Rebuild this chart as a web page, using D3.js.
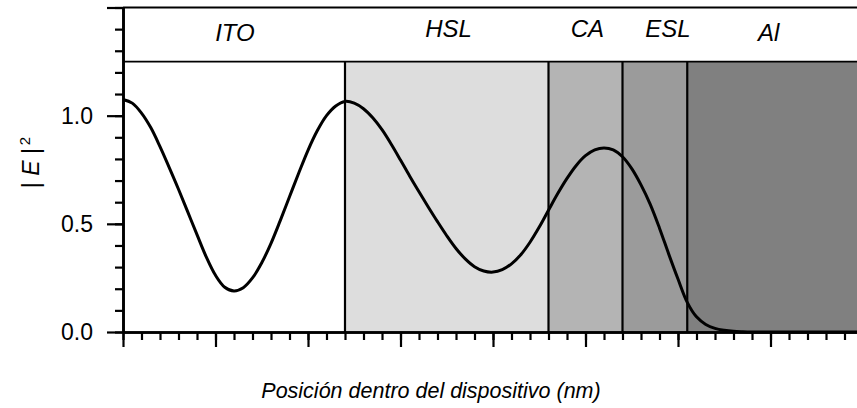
<!DOCTYPE html>
<html>
<head>
<meta charset="utf-8">
<script src="https://cdn.jsdelivr.net/npm/d3@7"></script>
<style>
  body { margin: 0; background: #fff; }
  text { font-family: "Liberation Sans", Arial, sans-serif; fill: #000; }
</style>
</head>
<body>
<div id="chart"></div>
<script>
// layers of the device (nm)
var layerNames = ["ITO", "HSL", "CA", "ESL", "Al"];
var layerStart = [0, 120, 230, 270, 305];
var layerEnd = [120, 230, 270, 305, 400];
var layerFill = ["#ffffff", "#dddddd", "#b4b4b4", "#9b9b9b", "#808080"];
var labelAt = [60.5, 176, 251, 294.5, 349];

// |E|^2, every 5 nm
var posNm = [0, 5, 10, 15, 20, 25, 30, 35, 40, 45, 50, 55, 60, 65, 70, 75, 80, 85, 90, 95,
  100, 105, 110, 115, 120, 125, 130, 135, 140, 145, 150, 155, 160, 165, 170, 175, 180, 185, 190, 195,
  200, 205, 210, 215, 220, 225, 230, 235, 240, 245, 250, 255, 260, 265, 270, 275, 280, 285, 290, 295,
  300, 305, 310, 315, 320, 325, 330, 335, 340, 350, 360, 370, 380, 390, 400];
var field = [1.075, 1.058, 1.012, 0.945, 0.857, 0.76, 0.66, 0.555, 0.45, 0.347, 0.262, 0.207, 0.19, 0.205, 0.25, 0.32, 0.41, 0.515, 0.625, 0.735,
  0.84, 0.93, 1.0, 1.045, 1.066, 1.058, 1.032, 0.99, 0.935, 0.868, 0.795, 0.72, 0.648, 0.578, 0.51, 0.445, 0.386, 0.338, 0.302, 0.282,
  0.277, 0.288, 0.315, 0.357, 0.415, 0.485, 0.563, 0.64, 0.71, 0.77, 0.815, 0.842, 0.851, 0.842, 0.81, 0.755, 0.68, 0.59, 0.48, 0.36,
  0.245, 0.137, 0.07, 0.035, 0.017, 0.008, 0.003, 0.001, 0, 0, 0, 0, 0, 0, 0];

var yLabels = [0, 0.5, 1.0];

var margin = {top: 7.5, left: 123},
    width = 740,
    height = 324.5;

var svg = d3.select("#chart")
    .append("svg")
    .attr("width", 857)
    .attr("height", 408)
    .append("g")
    .attr("transform", "translate(" + margin.left + "," + margin.top + ")");

var x = d3.scaleLinear().domain([0, 400]).range([0, width]);
var y = d3.scaleLinear().domain([0, 1.5]).range([height, 0]);

var data = posNm.map(function (d, i) { return {x: d, v: field[i]}; });

// layer fills (up to the header line)
svg.selectAll("rect.layer")
    .data(layerNames)
    .enter().append("rect")
    .attr("class", "layer")
    .attr("x", function (d, i) { return x(layerStart[i]); })
    .attr("width", function (d, i) { return x(layerEnd[i]) - x(layerStart[i]); })
    .attr("y", y(1.25))
    .attr("height", y(0) - y(1.25))
    .attr("fill", function (d, i) { return layerFill[i]; });

// boundaries between layers
svg.selectAll("line.bound")
    .data(layerStart.slice(1))
    .enter().append("line")
    .attr("x1", function (d) { return x(d); })
    .attr("x2", function (d) { return x(d); })
    .attr("y1", y(1.25))
    .attr("y2", y(0))
    .attr("stroke", "#000")
    .attr("stroke-width", 2.2);

// header separator and top border
svg.append("line")
    .attr("x1", 0).attr("x2", width)
    .attr("y1", y(1.25)).attr("y2", y(1.25))
    .attr("stroke", "#000").attr("stroke-width", 1.6);
svg.append("line")
    .attr("x1", 0).attr("x2", width)
    .attr("y1", y(1.5)).attr("y2", y(1.5))
    .attr("stroke", "#000").attr("stroke-width", 2.2);

// the curve
svg.append("path")
    .datum(data)
    .attr("fill", "none")
    .attr("stroke", "#000")
    .attr("stroke-width", 3)
    .attr("d", d3.line()
        .curve(d3.curveCatmullRom)
        .x(function (d) { return x(d.x); })
        .y(function (d) { return y(d.v); }));

// y axis: minor + major ticks
var yMinor = svg.append("g")
    .call(d3.axisLeft(y).tickValues(d3.range(0, 1.51, 0.1)).tickSize(8).tickSizeOuter(0).tickFormat(""));
var yMajor = svg.append("g")
    .call(d3.axisLeft(y).tickValues([0, 0.5, 1.0, 1.5]).tickSize(16).tickSizeOuter(0).tickPadding(14)
        .tickFormat(function (d) { return yLabels.indexOf(d) >= 0 ? d3.format(".1f")(d) : ""; }));

// x axis: minor + major ticks, no labels
var xMinor = svg.append("g")
    .attr("transform", "translate(0," + height + ")")
    .call(d3.axisBottom(x).tickValues(d3.range(0, 401, 10)).tickSize(8).tickSizeOuter(0).tickFormat(""));
var xMajor = svg.append("g")
    .attr("transform", "translate(0," + height + ")")
    .call(d3.axisBottom(x).tickValues(d3.range(0, 401, 50)).tickSize(15).tickSizeOuter(0).tickFormat(""));

[yMinor, yMajor, xMinor, xMajor].forEach(function (g) {
    g.selectAll("path.domain").attr("stroke-width", 2.6);
    g.selectAll(".tick line").attr("stroke-width", 2.2);
    g.selectAll("text").attr("font-size", 23).attr("font-family", "Liberation Sans, Arial, sans-serif");
});

// layer names in the header
svg.selectAll("text.layer")
    .data(layerNames)
    .enter().append("text")
    .attr("x", function (d, i) { return x(labelAt[i]); })
    .attr("y", function (d, i) { return (d === "ITO" || d === "Al") ? y(1.5) + 33.5 : y(1.5) + 29.5; })
    .attr("text-anchor", "middle")
    .attr("font-size", 24)
    .attr("font-style", "italic")
    .text(function (d) { return d; });

// axis titles
svg.append("text")
    .attr("x", 308)
    .attr("y", 390.5)
    .attr("text-anchor", "middle")
    .attr("font-size", 21.5)
    .attr("font-style", "italic")
    .text("Posición dentro del dispositivo (nm)");

var yt = svg.append("text")
    .attr("transform", "translate(-84," + 155 + ") rotate(-90)")
    .attr("text-anchor", "middle")
    .attr("font-size", 23);
yt.append("tspan").text("| ");
yt.append("tspan").attr("font-style", "italic").text("E");
yt.append("tspan").text(" |");
yt.append("tspan").attr("font-size", 15).attr("dx", 3).attr("dy", -9).text("2");
</script>
</body>
</html>
